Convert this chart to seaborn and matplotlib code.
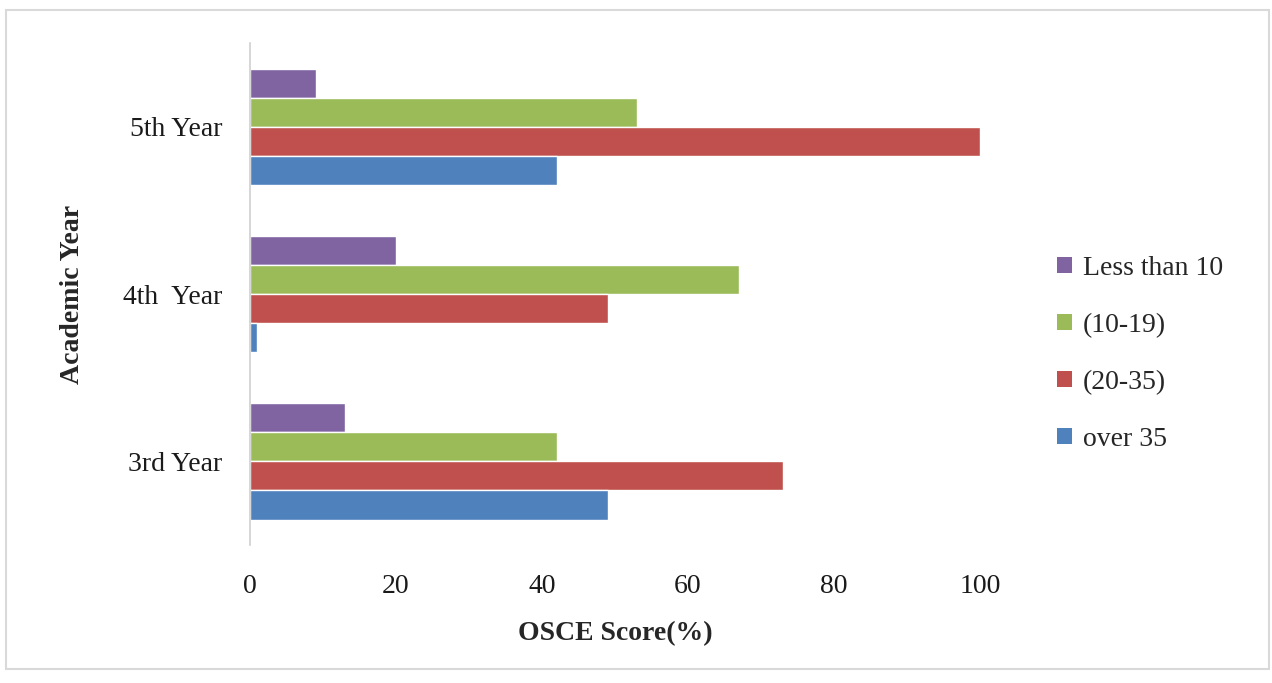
import matplotlib
matplotlib.use("Agg")
import matplotlib.pyplot as plt
import seaborn as sns
import pandas as pd
from matplotlib.patches import Patch, Rectangle

years = ["5th Year", "4th  Year", "3rd Year"]
groups = ["Less than 10", "(10-19)", "(20-35)", "over 35"]
less_than_10 = [9, 20, 13]
g10_19 = [53, 67, 42]
g20_35 = [100, 49, 73]
over_35 = [42, 1, 49]
colors = ["#8064A2", "#9BBB59", "#C0504D", "#4F81BD"]

rows = []
for grp, vals in zip(groups, [less_than_10, g10_19, g20_35, over_35]):
    for yr, v in zip(years, vals):
        rows.append({"Year": yr, "Group": grp, "Score": v})
df = pd.DataFrame(rows)

sns.set_theme(style="white")
plt.rcParams["font.family"] = ["Liberation Serif", "DejaVu Serif"]

fig = plt.figure(figsize=(12.72, 6.83), dpi=100)
ax = fig.add_axes([0.1965, 0.202, 0.5739, 0.735])

sns.barplot(data=df, x="Score", y="Year", hue="Group", order=years,
            hue_order=groups, palette=colors, orient="h", width=0.695,
            saturation=1, ax=ax, legend=False)

ax.set_xlim(0, 100)
ax.set_xticks([0, 20, 40, 60, 80, 100])
ax.tick_params(axis="both", length=0, labelsize=20, colors="#1a1a1a")
ax.tick_params(axis="x", pad=21)
ax.tick_params(axis="y", pad=20)
for s in ["top", "right", "bottom"]:
    ax.spines[s].set_visible(False)
ax.spines["left"].set_color("#d0d0d0")
ax.spines["left"].set_linewidth(1.2)

ax.set_xlabel("OSCE Score(%)", fontsize=20, fontweight="bold", labelpad=16)
ax.set_ylabel("Academic Year", fontsize=20, fontweight="bold", labelpad=27)

handles = [Patch(facecolor=c, edgecolor="none") for c in colors]
fig.legend(handles, groups, loc="center left", bbox_to_anchor=(0.811, 0.482),
           frameon=False, fontsize=20, handlelength=0.55, handleheight=0.55,
           handletextpad=0.4, labelspacing=1.15)

fig.patches.append(Rectangle((0.005, 0.02), 0.993, 0.965, transform=fig.transFigure,
                             fill=False, edgecolor="#d9d9d9", linewidth=1.5))

fig.savefig("out.png", dpi=100)
